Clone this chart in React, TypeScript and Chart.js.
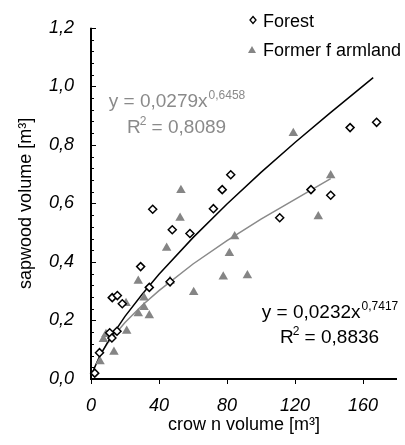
import React, { useEffect, useRef } from 'react';
import { Chart, registerables } from 'chart.js';
Chart.register(...registerables);

const seriesNames = ['Forest', 'Former f armland'];

const forestX = [2.2, 5, 11, 12.3, 15.3, 12.5, 15.5, 18.4, 29.2, 34.3, 36.3, 46.5, 47.8, 58.2, 72, 77.2, 82.2, 111, 129.4, 141, 152.4, 168];
const forestY = [0.02, 0.09, 0.158, 0.14, 0.163, 0.278, 0.285, 0.257, 0.384, 0.313, 0.58, 0.332, 0.51, 0.497, 0.582, 0.647, 0.698, 0.551, 0.647, 0.628, 0.859, 0.877];

const farmX = [5.3, 7.3, 8.8, 13.5, 21, 20.6, 27.8, 27.8, 31.2, 31.2, 34.3, 44.5, 46.5, 52.4, 52.9, 60.4, 77.8, 81.4, 84.5, 92, 119, 133.7, 141];
const farmY = [0.06, 0.136, 0.153, 0.092, 0.164, 0.259, 0.335, 0.224, 0.278, 0.245, 0.217, 0.448, 0.335, 0.55, 0.645, 0.296, 0.349, 0.43, 0.487, 0.354, 0.84, 0.555, 0.695];

const forestTrendX = [1.5, 5, 10, 20, 30, 40, 60, 80, 100, 120, 140, 166];
const forestTrendY = [0.031, 0.077, 0.128, 0.214, 0.289, 0.358, 0.483, 0.598, 0.706, 0.808, 0.906, 1.03];

const farmTrendX = [5, 10, 20, 30, 40, 60, 80, 100, 120, 141];
const farmTrendY = [0.079, 0.124, 0.193, 0.251, 0.302, 0.393, 0.473, 0.546, 0.614, 0.685];

const xTickValues = [0, 40, 80, 120, 160];
const yTickValues = [0, 0.2, 0.4, 0.6, 0.8, 1.0, 1.2];
const yMinorStep = 0.04;

const grayEq = { base: 'y = 0,0279x', sup: '0,6458', r2: '0,8089' };
const blackEq = { base: 'y = 0,0232x', sup: '0,7417', r2: '0,8836' };

const xTitle = 'crow n volume [m³]';
const yTitle = 'sapwood volume [m³]';

const FONT = '"Liberation Sans", Arial, sans-serif';
const GRAY = '#8a8a8a';
const TRI = '#858585';

function toPts(xs: number[], ys: number[]) {
  return xs.map((x, i) => ({ x, y: ys[i] }));
}

function drawEquation(ctx: CanvasRenderingContext2D, cx: number, base1: number, base2: number, eq: { base: string; sup: string; r2: string }, color: string) {
  ctx.save();
  ctx.fillStyle = color;
  ctx.textBaseline = 'alphabetic';
  ctx.textAlign = 'left';
  const big = `19px ${FONT}`;
  const small = `12px ${FONT}`;
  ctx.font = big;
  const w1 = ctx.measureText(eq.base).width;
  ctx.font = small;
  const ws = ctx.measureText(eq.sup).width;
  let x = cx - (w1 + ws + 1) / 2;
  ctx.font = big;
  ctx.fillText(eq.base, x, base1);
  ctx.font = small;
  ctx.fillText(eq.sup, x + w1 + 1, base1 - 8);
  // line 2
  ctx.font = big;
  const wR = ctx.measureText('R').width;
  const rest = ' = ' + eq.r2;
  const wRest = ctx.measureText(rest).width;
  ctx.font = small;
  const w2 = ctx.measureText('2').width;
  x = cx - (wR + w2 + wRest) / 2;
  ctx.font = big;
  ctx.fillText('R', x, base2);
  ctx.font = small;
  ctx.fillText('2', x + wR - 1, base2 - 8);
  ctx.font = big;
  ctx.fillText(rest, x + wR + w2 - 1, base2);
  ctx.restore();
}

const decorPlugin = {
  id: 'decor',
  beforeDatasetsDraw(chart: any) {
    const ctx: CanvasRenderingContext2D = chart.ctx;
    const xs = chart.scales.x;
    const ys = chart.scales.y;
    const { left, right, top, bottom } = chart.chartArea;
    ctx.save();
    ctx.strokeStyle = '#000';
    ctx.lineWidth = 2;
    ctx.beginPath();
    ctx.moveTo(left, top);
    ctx.lineTo(left, bottom);
    ctx.lineTo(right, bottom);
    ctx.stroke();
    ctx.lineWidth = 1;
    ctx.beginPath();
    const nMinor = Math.round(1.2 / yMinorStep);
    for (let i = 0; i <= nMinor; i++) {
      const v = i * yMinorStep;
      const py = Math.round(ys.getPixelForValue(v)) + 0.5;
      const major = i % 5 === 0;
      ctx.moveTo(left, py);
      ctx.lineTo(left + (major ? 5 : 3), py);
    }
    for (const v of xTickValues) {
      const px = Math.round(xs.getPixelForValue(v)) + 0.5;
      ctx.moveTo(px, bottom);
      ctx.lineTo(px, bottom + 5);
    }
    ctx.stroke();
    ctx.restore();
  },
  afterDatasetsDraw(chart: any) {
    const ctx: CanvasRenderingContext2D = chart.ctx;
    const { left, right, top, bottom } = chart.chartArea;
    ctx.save();
    // axis titles
    ctx.fillStyle = '#000';
    ctx.font = `18px ${FONT}`;
    ctx.textAlign = 'center';
    ctx.textBaseline = 'middle';
    ctx.fillText(xTitle, (left + right) / 2, 425);
    ctx.save();
    ctx.translate(26, (top + bottom) / 2);
    ctx.rotate(-Math.PI / 2);
    ctx.fillText(yTitle, 0, 0);
    ctx.restore();

    // legend
    ctx.textAlign = 'left';
    ctx.textBaseline = 'alphabetic';
    ctx.font = `18px ${FONT}`;
    ctx.fillStyle = '#000';
    ctx.fillText(chart.data.datasets[0].label, 263, 27);
    ctx.fillText(chart.data.datasets[1].label, 263, 56);
    // diamond
    ctx.strokeStyle = '#000';
    ctx.lineWidth = 1.3;
    ctx.fillStyle = '#fff';
    ctx.beginPath();
    const dx = 253, dy = 20;
    ctx.moveTo(dx, dy - 3.5);
    ctx.lineTo(dx + 3, dy);
    ctx.lineTo(dx, dy + 3.5);
    ctx.lineTo(dx - 3, dy);
    ctx.closePath();
    ctx.fill();
    ctx.stroke();
    // triangle
    ctx.fillStyle = TRI;
    ctx.beginPath();
    const tx = 252, ty = 50;
    ctx.moveTo(tx, ty - 4);
    ctx.lineTo(tx + 4, ty + 3);
    ctx.lineTo(tx - 4, ty + 3);
    ctx.closePath();
    ctx.fill();

    drawEquation(ctx, 177, 107, 133, grayEq, GRAY);
    drawEquation(ctx, 330, 318, 343, blackEq, '#000');
    ctx.restore();
  },
};

export default function App() {
  const ref = useRef<HTMLCanvasElement | null>(null);
  useEffect(() => {
    if (!ref.current) return;
    const chart = new Chart(ref.current, {
      type: 'scatter',
      data: {
        datasets: [
          {
            label: seriesNames[0],
            data: toPts(forestX, forestY),
            pointStyle: 'rectRot',
            pointRadius: 4,
            pointBackgroundColor: '#fff',
            pointBorderColor: '#000',
            pointBorderWidth: 1.5,
            showLine: false,
            clip: false,
          } as any,
          {
            label: seriesNames[1],
            data: toPts(farmX, farmY),
            pointStyle: 'triangle',
            pointRadius: 5.5,
            pointBackgroundColor: TRI,
            pointBorderColor: TRI,
            pointBorderWidth: 0,
            showLine: false,
            clip: false,
          } as any,
          {
            label: 'forest trend',
            data: toPts(forestTrendX, forestTrendY),
            showLine: true,
            borderColor: '#000',
            borderWidth: 1.5,
            pointRadius: 0,
            tension: 0,
            clip: false,
          } as any,
          {
            label: 'farmland trend',
            data: toPts(farmTrendX, farmTrendY),
            showLine: true,
            borderColor: GRAY,
            borderWidth: 1.5,
            pointRadius: 0,
            tension: 0,
            clip: false,
          } as any,
        ],
      },
      options: {
        responsive: false,
        animation: false,
        events: [],
        layout: { padding: { top: 21, right: 8, left: 0, bottom: 0 } },
        plugins: { legend: { display: false }, tooltip: { enabled: false } },
        scales: {
          x: {
            type: 'linear',
            min: 0,
            max: 180,
            afterFit: (s: any) => { s.height = 66; },
            afterBuildTicks: (s: any) => { s.ticks = xTickValues.map((v) => ({ value: v })); },
            grid: { display: false, drawTicks: false },
            border: { display: false },
            ticks: {
              padding: 16,
              color: '#000',
              font: { family: FONT, size: 18, style: 'italic' },
              callback: (v: any) => String(v),
            },
          },
          y: {
            type: 'linear',
            min: 0,
            max: 1.2,
            afterFit: (s: any) => { s.width = 91; },
            afterBuildTicks: (s: any) => { s.ticks = yTickValues.map((v) => ({ value: v })); },
            grid: { display: false, drawTicks: false },
            border: { display: false },
            ticks: {
              padding: 17,
              color: '#000',
              font: { family: FONT, size: 18, style: 'italic' },
              callback: (v: any) => Number(v).toFixed(1).replace('.', ','),
            },
          },
        },
      },
      plugins: [decorPlugin],
    });
    return () => chart.destroy();
  }, []);
  return (
    <div style={{ position: 'absolute', left: 0, top: 0, width: 405, height: 445, background: '#fff' }}>
      <canvas ref={ref} width={405} height={445} />
    </div>
  );
}
